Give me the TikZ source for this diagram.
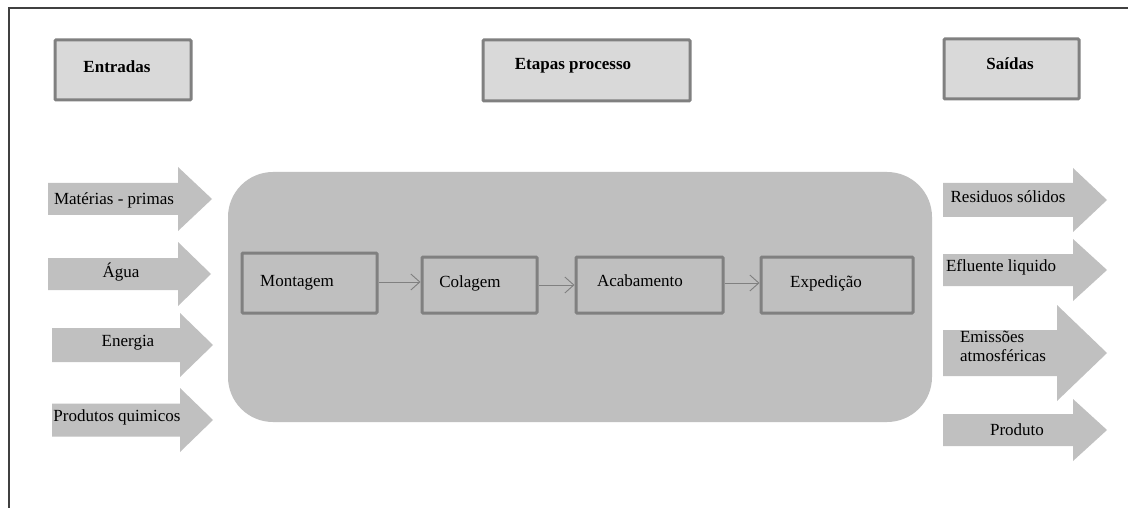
\documentclass[tikz,border=0pt]{standalone}
\usepackage{fontspec}
\setmainfont{Liberation Serif}
\usetikzlibrary{arrows.meta}
\definecolor{hdrfill}{HTML}{D9D9D9}
\definecolor{hdrdraw}{HTML}{808080}
\definecolor{bigfill}{HTML}{BFBFBF}
\definecolor{arrfill}{HTML}{C0C0C0}
\definecolor{framec}{HTML}{404040}
\newcommand{\blockarrow}[7]{% name, x0, x1, x2, yc, hs, hh
  \fill[arrfill] (#2,#5-#6) -- (#3,#5-#6) -- (#3,#5-#7) -- (#4,#5) -- (#3,#5+#7) -- (#3,#5+#6) -- (#2,#5+#6) -- cycle;
  \coordinate (#1) at (#2,#5);}
\begin{document}
\begin{tikzpicture}[x=1pt,y=-1pt,
  txt/.style={font=\fontsize{17}{19}\selectfont, inner sep=0pt, text=black},
  hdr/.style={draw=hdrdraw, line width=3pt, fill=hdrfill, rounded corners=1pt},
  hdrtxt/.style={font=\fontsize{17}{19}\selectfont\bfseries, inner sep=0pt},
  stepbox/.style={draw=hdrdraw, line width=3pt, rounded corners=1pt},
  flow/.style={draw=hdrdraw, line width=0.9pt, -{Straight Barb[length=9pt,width=16pt,line width=0.9pt]}}]
\useasboundingbox (0,0) rectangle (1128,508);
\fill[white] (0,0) rectangle (1128,508);
% frame
\draw[framec, line width=1.5pt] (9,508) -- (9,8) -- (1128,8);
% headers
\draw[hdr] (55,40) rectangle (191,100);
\node[hdrtxt] (entradas) at (117,67) {Entradas};
\draw[hdr] (483,40) rectangle (690,101);
\node[hdrtxt] (etapas) at (573,66) {Etapas processo};
\draw[hdr] (944,39) rectangle (1079,99);
\node[hdrtxt] (saidas) at (1010,64) {Saídas};
% big rounded rectangle
\fill[bigfill, rounded corners=45pt] (228,172) rectangle (932,422);
% input arrows
\blockarrow{in1}{48}{178}{212}{199}{16}{32}
\node[txt] (materias) at (114,200) {Matérias - primas};
\blockarrow{in2}{48}{178}{211}{274}{16}{32}
\node[txt] (agua) at (121,272) {Água};
\blockarrow{in3}{52}{180}{213}{345}{17}{32}
\node[txt] (energia) at (128,343) {Energia};
\blockarrow{in4}{52}{180}{213}{420}{16.5}{32}
\node[txt] (quimicos) at (117,417) {Produtos quimicos};
% output arrows
\blockarrow{out1}{943}{1073}{1107}{200}{17}{32}
\node[txt] (residuos) at (1008,197) {Residuos sólidos};
\blockarrow{out2}{943}{1073}{1107}{270}{16}{31}
\node[txt] (efluente) at (1001,267) {Efluente liquido};
\blockarrow{out3}{943}{1057}{1107}{353}{23}{48}
\node[txt, align=left] (emissoes) at (1003,346) {Emissões\\atmosféricas};
\blockarrow{out4}{943}{1073}{1107}{430}{16}{31}
\node[txt] (produto) at (1017,430) {Produto};
% process steps
\draw[stepbox] (242,253) rectangle (377,313);
\node[txt] (montagem) at (297,283) {Montagem};
\draw[stepbox] (422,257) rectangle (537,313);
\node[txt] (colagem) at (470,283) {Colagem};
\draw[stepbox] (576,257) rectangle (723,313);
\node[txt] (acabamento) at (640,281) {Acabamento};
\draw[stepbox] (761,257) rectangle (913,313);
\node[txt] (expedicao) at (826,283) {Expedição};
\coordinate (m1) at (378.5,282);
\coordinate (c0) at (420.5,282);
\coordinate (c1) at (538.5,285);
\coordinate (a0) at (574.5,285);
\coordinate (a1) at (724.5,283);
\coordinate (e0) at (759.5,283);
\draw[flow] (m1) -- (c0);
\draw[flow] (c1) -- (a0);
\draw[flow] (a1) -- (e0);
\end{tikzpicture}
\end{document}
